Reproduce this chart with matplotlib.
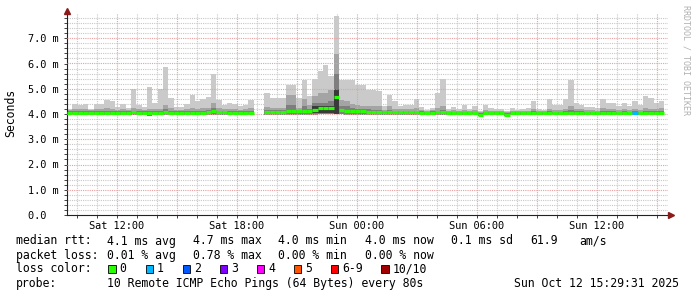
import numpy as np
import matplotlib
matplotlib.use("Agg")
import matplotlib.pyplot as plt
from matplotlib.patches import Rectangle

plt.rcParams['font.family'] = ['DejaVu Sans Mono']

nan = float('nan')

# one consolidated step = 16 minutes, x axis in hours since Sat 09:30
bin_hours = 16 / 60.0

# smoke (sorted pings), values in ms
ping_max = [
    4.20, 4.38, 4.35, 4.38, 4.20, 4.38, 4.38, 4.55, 4.52, 4.28, 4.38, 4.25, 5.00, 4.35, 4.28, 5.05,
    4.45, 5.00, 5.88, 4.62, 4.28, 4.28, 4.38, 4.74, 4.52, 4.60, 4.66, 5.57, 4.55, 4.35, 4.42, 4.38,
    4.30, 4.35, 4.55, nan, nan, 4.85, 4.62, 4.62, 4.62, 5.14, 5.14, 4.62, 5.33, 4.70, 5.40, 5.69,
    5.93, 5.50, 7.90, 5.33, 5.33, 5.33, 5.14, 5.14, 4.97, 4.97, 4.90, 4.30, 4.74, 4.50, 4.33, 4.35,
    4.35, 4.58, 4.28, 4.15, 4.25, 4.82, 5.40, 4.20, 4.27, 4.20, 4.37, 4.20, 4.30, 4.10, 4.37, 4.25,
    4.20, 4.20, 4.10, 4.22, 4.15, 4.20, 4.25, 4.50, 4.20, 4.15, 4.58, 4.35, 4.35, 4.58, 5.33, 4.45,
    4.37, 4.27, 4.28, 4.25, 4.60, 4.42, 4.45, 4.33, 4.42, 4.30, 4.50, 4.37, 4.72, 4.65, 4.42, 4.50,
]
ping_mid = [
    4.15, 4.18, 4.20, 4.18, 4.15, 4.20, 4.18, 4.22, 4.20, 4.15, 4.18, 4.15, 4.22, 4.18, 4.15, 4.20,
    4.18, 4.20, 4.35, 4.22, 4.15, 4.15, 4.18, 4.22, 4.20, 4.22, 4.25, 4.45, 4.22, 4.18, 4.20, 4.18,
    4.15, 4.18, 4.25, nan, nan, 4.28, 4.25, 4.25, 4.25, 4.77, 4.77, 4.25, 4.60, 4.36, 4.70, 4.83,
    4.83, 4.95, 6.39, 4.55, 4.50, 4.40, 4.35, 4.30, 4.30, 4.30, 4.30, 4.15, 4.30, 4.20, 4.18, 4.20,
    4.20, 4.25, 4.15, 4.12, 4.15, 4.25, 4.30, 4.12, 4.15, 4.12, 4.15, 4.12, 4.15, 4.08, 4.15, 4.12,
    4.12, 4.12, 4.08, 4.12, 4.10, 4.12, 4.12, 4.20, 4.12, 4.10, 4.18, 4.15, 4.15, 4.20, 4.30, 4.20,
    4.18, 4.15, 4.15, 4.12, 4.25, 4.20, 4.20, 4.15, 4.20, 4.15, 4.20, 4.15, 4.22, 4.20, 4.18, 4.22,
]
ping_inner = [
    4.10, 4.10, 4.10, 4.10, 4.10, 4.10, 4.10, 4.10, 4.10, 4.10, 4.10, 4.10, 4.12, 4.10, 4.10, 4.10,
    4.10, 4.10, 4.20, 4.12, 4.10, 4.10, 4.10, 4.12, 4.10, 4.12, 4.15, 4.25, 4.12, 4.10, 4.10, 4.10,
    4.10, 4.10, 4.12, nan, nan, 4.15, 4.14, 4.14, 4.16, 4.36, 4.36, 4.16, 4.30, 4.20, 4.45, 4.45,
    4.45, 4.50, 5.60, 4.30, 4.30, 4.25, 4.20, 4.18, 4.18, 4.16, 4.16, 4.10, 4.15, 4.12, 4.10, 4.10,
    4.10, 4.12, 4.10, 4.09, 4.10, 4.12, 4.14, 4.08, 4.09, 4.08, 4.09, 4.08, 4.09, 4.05, 4.09, 4.08,
    4.08, 4.08, 4.05, 4.08, 4.08, 4.08, 4.08, 4.10, 4.08, 4.08, 4.10, 4.09, 4.09, 4.10, 4.14, 4.10,
    4.10, 4.09, 4.09, 4.08, 4.12, 4.10, 4.10, 4.09, 4.10, 4.09, 4.10, 4.09, 4.12, 4.10, 4.10, 4.12,
]
ping_min = [
    3.98, 3.98, 3.98, 3.98, 3.98, 3.98, 3.98, 3.98, 3.98, 3.98, 3.98, 3.98, 3.95, 3.98, 3.98, 3.93,
    3.98, 3.98, 3.98, 3.98, 3.98, 3.98, 3.98, 3.98, 3.98, 3.98, 3.98, 3.98, 3.98, 3.98, 3.98, 3.98,
    3.98, 3.98, 3.98, nan, nan, 3.98, 3.98, 3.98, 3.98, 3.97, 3.98, 3.98, 3.98, 3.98, 3.98, 3.99,
    3.99, 3.99, 4.00, 3.99, 3.98, 3.98, 3.98, 3.98, 3.98, 3.98, 3.98, 3.98, 3.98, 3.98, 3.98, 3.98,
    3.98, 3.98, 3.98, 3.98, 3.98, 3.98, 3.98, 3.98, 3.98, 3.98, 3.98, 3.98, 3.98, 3.94, 3.98, 3.98,
    3.98, 3.98, 3.94, 3.98, 3.98, 3.98, 3.98, 3.98, 3.98, 3.98, 3.98, 3.98, 3.98, 3.98, 3.98, 3.98,
    3.98, 3.98, 3.98, 3.98, 3.98, 3.98, 3.98, 3.98, 3.98, 3.98, 3.98, 3.98, 3.98, 3.98, 3.98, 3.98,
]
median_rtt = [
    4.05, 4.05, 4.05, 4.05, 4.05, 4.05, 4.05, 4.05, 4.05, 4.05, 4.05, 4.05, 4.06, 4.05, 4.05, 4.04,
    4.05, 4.05, 4.06, 4.05, 4.05, 4.05, 4.05, 4.05, 4.05, 4.05, 4.08, 4.13, 4.08, 4.06, 4.05, 4.05,
    4.04, 4.05, 4.05, nan, nan, 4.07, 4.08, 4.08, 4.09, 4.12, 4.12, 4.10, 4.12, 4.12, 4.15, 4.22,
    4.22, 4.22, 4.68, 4.14, 4.12, 4.12, 4.10, 4.10, 4.09, 4.09, 4.08, 4.07, 4.08, 4.07, 4.07, 4.06,
    4.06, 4.06, 4.05, 4.05, 4.05, 4.06, 4.06, 4.04, 4.04, 4.04, 4.04, 4.04, 4.04, 3.97, 4.04, 4.04,
    4.04, 4.04, 3.97, 4.04, 4.04, 4.04, 4.04, 4.04, 4.04, 4.04, 4.04, 4.04, 4.04, 4.05, 4.05, 4.05,
    4.05, 4.05, 4.05, 4.05, 4.05, 4.05, 4.05, 4.05, 4.05, 4.05, 4.05, 4.05, 4.05, 4.05, 4.05, 4.05,
]
# darkest smoke, only where it shows around the median
core_bins = [46, 47, 48, 49, 50]
core_lo = [4.04, 4.05, 4.05, 4.05, 4.00]
core_hi = [4.30, 4.33, 4.33, 4.33, 5.00]

# bins with packet loss (everything else 0 lost)
loss_bins = [106]
loss_count = [1]

loss_labels = ['0', '1', '2', '3', '4', '5', '6-9', '10/10']
loss_colors = ['#26ff00', '#00b8ff', '#0059ff', '#7e00ff', '#ff00ff', '#ff5500', '#ff0000', '#a00000']

tick_hours = [2.5, 8.5, 14.5, 20.5, 26.5]
tick_names = ['Sat 12:00', 'Sat 18:00', 'Sun 00:00', 'Sun 06:00', 'Sun 12:00']

rtt_line = ['median rtt:', '4.1 ms avg', '4.7 ms max', '4.0 ms min', '4.0 ms now',
            '0.1 ms sd', '61.9', 'am/s']
loss_line = ['packet loss:', '0.01 % avg', '0.78 % max', '0.00 % min', '0.00 % now']
probe_line = ['probe:', '10 Remote ICMP Echo Pings (64 Bytes) every 80s']
stamp = 'Sun Oct 12 15:29:31 2025'

n = len(ping_max)
assert n == len(ping_mid) == len(ping_inner) == len(ping_min) == len(median_rtt) == 112

W, H = 697, 297
fig = plt.figure(figsize=(W / 100, H / 100), dpi=100)
ax = fig.add_axes([67 / W, 82 / H, 601 / W, 202 / H])
ax.set_xlim(0, 30.05)
ax.set_ylim(0, 8.0)

edges = np.arange(n + 1) * bin_hours
left = edges[:-1]
lo = np.array(ping_min)

for top, col in [(ping_max, '#cacaca'), (ping_mid, '#a4a4a4'), (ping_inner, '#7e7e7e')]:
    top = np.array(top)
    ok = ~np.isnan(top)
    ax.bar(left[ok], top[ok] - lo[ok], bottom=lo[ok], width=bin_hours, align='edge',
           color=col, linewidth=0, zorder=2)
ax.bar(left[core_bins], np.array(core_hi) - np.array(core_lo), bottom=core_lo,
       width=bin_hours, align='edge', color='#3a3a3a', linewidth=0, zorder=2)

# median line, coloured by loss
med = np.array(median_rtt)
colors = [loss_colors[0]] * n
for b, c in zip(loss_bins, loss_count):
    colors[b] = loss_colors[c]
ok = ~np.isnan(med)
ax.hlines(med[ok], left[ok], left[ok] + bin_hours, colors=np.array(colors)[ok],
          lw=2.3, zorder=4, capstyle='butt')

# grid
for h in np.arange(0.5, 30, 1.0):
    major = (h - 2.5) % 3 == 0
    ax.axvline(h, color='#e8a0a0' if major else '#c8c8c8', lw=0.8,
               ls=(0, (1, 1)), zorder=3 if major else 1)
for v in np.arange(0.2, 8.0, 0.2):
    major = abs(v - round(v)) < 1e-6
    ax.axhline(v, color='#e8a0a0' if major else '#c8c8c8', lw=0.8,
               ls=(0, (1, 1)), zorder=3 if major else 1)

for s in ['top', 'right']:
    ax.spines[s].set_visible(False)
for s in ['left', 'bottom']:
    ax.spines[s].set_color('#222222')
    ax.spines[s].set_linewidth(0.8)

ax.set_yticks(range(8))
ax.set_yticklabels(['0.0  '] + ['%d.0 m' % i for i in range(1, 8)])
ax.set_yticks(np.arange(0, 8.0, 0.2), minor=True)
ax.set_xticks(tick_hours)
ax.set_xticklabels(tick_names)
ax.set_xticks(np.arange(0.5, 30, 1.0), minor=True)
ax.tick_params(axis='both', which='both', length=2, width=0.7, color='#444444',
               labelsize=7.4)
ax.tick_params(axis='y', pad=4)
ax.tick_params(axis='x', pad=2)

# arrows at axis ends
ax.plot([0], [8.08], marker='^', ms=4.5, color='#8b1a1a', clip_on=False, zorder=6)
ax.plot([30.18], [0], marker='>', ms=4.5, color='#8b1a1a', clip_on=False, zorder=6)

fig.text(11 / W, 1 - 113 / H, 'Seconds', rotation=90, ha='center', va='center', fontsize=8.3)
fig.text(686 / W, 1 - 5 / H, 'RRDTOOL / TOBI OETIKER', rotation=270, ha='center', va='top',
         fontsize=6, color='#b0b0b0')

fs = 8.3
# legend fields are placed one by one like rrdtool does
for x, s in zip([16, 107, 193, 278, 365, 451, 530, 579], rtt_line):
    fig.text(x / W, 1 - 241 / H, s, fontsize=fs, va='center')
for x, s in zip([16, 107, 193, 278, 365], loss_line):
    fig.text(x / W, 1 - 255.5 / H, s, fontsize=fs, va='center')
fig.text(16 / W, 1 - 269 / H, 'loss color:', fontsize=fs, va='center')
box_x = [108.3, 145.7, 182.7, 219.7, 257, 294, 331, 381.3]
for bx, lab, col in zip(box_x, loss_labels, loss_colors):
    fig.add_artist(Rectangle((bx / W, 1 - 272.5 / H), 7.3 / W, 7.3 / H, transform=fig.transFigure,
                             facecolor=col, edgecolor='black', lw=0.6))
    fig.text((bx + 11.3) / W, 1 - 269 / H, lab, fontsize=fs, va='center')
for x, s in zip([16, 107], probe_line):
    fig.text(x / W, 1 - 283.5 / H, s, fontsize=fs, va='center')
fig.text(514 / W, 1 - 283.5 / H, stamp, fontsize=fs, va='center')

fig.savefig('out.png', dpi=100)
